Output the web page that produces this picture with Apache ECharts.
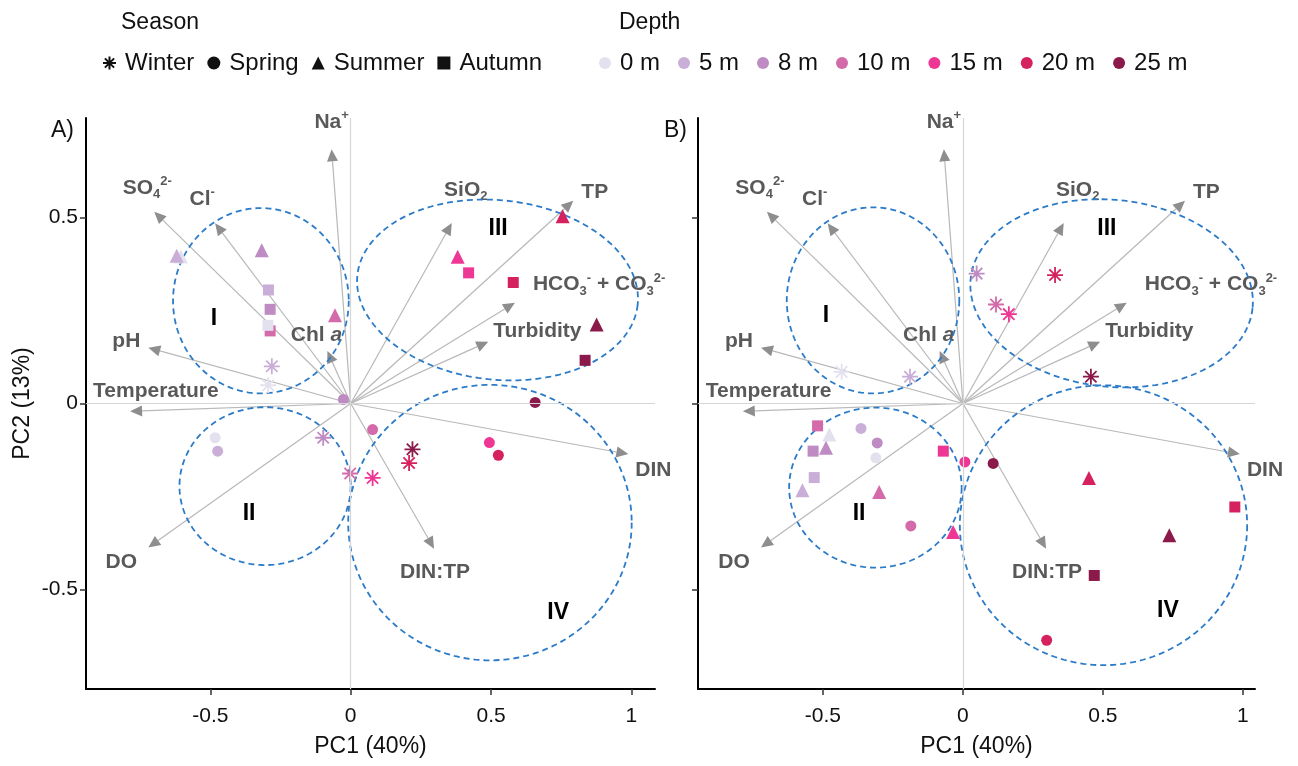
<!DOCTYPE html>
<html><head><meta charset="utf-8">
<script src="https://cdn.jsdelivr.net/npm/echarts@6/dist/echarts.min.js"></script>
<style>html,body{margin:0;padding:0;background:#fff}#c{width:1298px;height:766px}</style>
</head><body><div id="c"></div><script>
// ---------------- DATA ----------------
const depths = ['0 m','5 m','8 m','10 m','15 m','20 m','25 m'];
const seasons = ['Winter','Spring','Summer','Autumn'];
const xTicks = [-0.5, 0, 0.5, 1];
const yTicks = [-0.5, 0, 0.5];

// PCA loadings (arrows) : names, PC1, PC2
const loadingNames = ['Na+','SO4','Cl','pH','Chl a','Temperature','DO','SiO2','TP','HCO3','Turbidity','DIN','DIN:TP'];
const loadingPC1 = [-0.068,-0.700,-0.483,-0.721,-0.083,-0.786,-0.721,0.360,0.793,0.585,0.490,0.989,0.297];
const loadingPC2 = [0.683,0.515,0.484,0.150,0.141,-0.021,-0.387,0.485,0.545,0.271,0.166,-0.136,-0.390];

// Scores: [PC1, PC2, depth index]
const A_winter = [[-0.294,0.049,0],[-0.281,0.100,1],[-0.098,-0.092,2],[-0.002,-0.188,3],[0.078,-0.200,4],[0.208,-0.160,5],[0.220,-0.123,6]];
const A_spring = [[-0.483,-0.092,0],[-0.474,-0.128,1],[-0.026,0.011,2],[0.078,-0.070,3],[0.494,-0.105,4],[0.526,-0.139,5],[0.657,0.003,6]];
const A_summer = [[-0.605,0.395,0],[-0.620,0.397,1],[-0.317,0.412,2],[-0.056,0.237,3],[0.381,0.394,4],[0.755,0.503,5],[0.876,0.212,6]];
const A_autumn = [[-0.293,0.305,1],[-0.287,0.253,2],[-0.287,0.195,3],[-0.295,0.210,0],[0.420,0.351,4],[0.579,0.325,5],[0.835,0.116,6]];

const B_winter = [[-0.433,0.085,0],[-0.189,0.072,1],[0.049,0.349,2],[0.118,0.266,3],[0.164,0.240,4],[0.329,0.345,5],[0.457,0.072,6]];
const B_spring = [[-0.311,-0.146,0],[-0.364,-0.067,1],[-0.306,-0.106,2],[-0.186,-0.329,3],[0.007,-0.157,4],[0.299,-0.636,5],[0.108,-0.161,6]];
const B_summer = [[-0.477,-0.083,0],[-0.573,-0.233,1],[-0.489,-0.119,2],[-0.299,-0.238,3],[-0.035,-0.345,4],[0.450,-0.200,5],[0.737,-0.354,6]];
const B_autumn = [[-0.531,-0.199,1],[-0.535,-0.128,2],[-0.519,-0.060,3],[-0.070,-0.128,4],[0.971,-0.278,5],[0.469,-0.462,6]];

// Cluster ellipses: [centre PC1, centre PC2, radius PC1, radius PC2, tilt deg]
const A_clusters = [[-0.320,0.276,0.313,0.249,0],[-0.305,-0.222,0.305,0.212,0],[0.523,0.305,0.502,0.241,6],[0.496,-0.320,0.505,0.370,0]];
const B_clusters = [[-0.321,0.277,0.308,0.250,0],[-0.3125,-0.226,0.308,0.215,0],[0.531,0.296,0.506,0.251,6],[0.502,-0.327,0.513,0.376,0]];
const clusterNames = ['I','II','III','IV'];
const A_clusterLabelPos = [[-0.487,0.229],[-0.362,-0.295],[0.525,0.471],[0.739,-0.561]];
const B_clusterLabelPos = [[-0.489,0.235],[-0.371,-0.295],[0.514,0.471],[0.732,-0.556]];

// ---------------- STYLE ----------------
const FONT = '"Liberation Sans", Arial, Helvetica, sans-serif';
const depthColors = ['#e4e1ef','#c9afd7','#bf8bc3','#d36aa9','#ee3795','#d6215f','#8b1a4a'];
const ASTERISK = 'path://M0,-10L0,10M-10,0L10,0M-7.07,-7.07L7.07,7.07M7.07,-7.07L-7.07,7.07';
const seasonSymbol = {Winter: ASTERISK, Spring: 'circle', Summer: 'triangle', Autumn: 'rect'};
const seasonSize = {Winter: 16, Spring: 11, Summer: 14, Autumn: 11};
const labelCfg = {
  'Na+':        {t:'{b|Na}{sup|+}', dx:0, dy:-27, a:'center'},
  'SO4':        {t:'{b|SO}{sub|4}{sup|2-}', dx:-7, dy:-24, a:'center'},
  'Cl':         {t:'{b|Cl}{sup|-}', dx:-13, dy:-24, a:'center'},
  'pH':         {t:'{b|pH}', dx:-22, dy:-6, a:'center'},
  'Chl a':      {t:'{b|Chl }{i|a}', dx:-11, dy:-16, a:'center'},
  'Temperature':{t:'{b|Temperature}', dx:-37, dy:-20, a:'left'},
  'DO':         {t:'{b|DO}', dx:-27, dy:15, a:'center'},
  'SiO2':       {t:'{b|SiO}{sub|2}', dx:14, dy:-33, a:'center'},
  'TP':         {t:'{b|TP}', dx:8, dy:-8, a:'left'},
  'HCO3':       {t:'{b|HCO}{sub|3}{sup|-}{b| + CO}{sub|3}{sup|2-}', dx:18, dy:-18, a:'left'},
  'Turbidity':  {t:'{b|Turbidity}', dx:5, dy:-11, a:'left'},
  'DIN':        {t:'{b|DIN}', dx:7, dy:16, a:'left'},
  'DIN:TP':     {t:'{b|DIN:TP}', dx:1, dy:24, a:'center'}
};
const rich = {
  b:{fontSize:21, fontWeight:'bold', fill:'#595959', fontFamily:FONT, lineHeight:26},
  i:{fontSize:21, fontWeight:'bold', fontStyle:'italic', fill:'#595959', fontFamily:FONT, lineHeight:26},
  sup:{fontSize:13, fontWeight:'bold', fill:'#595959', fontFamily:FONT, lineHeight:13, verticalAlign:'top'},
  sub:{fontSize:13, fontWeight:'bold', fill:'#595959', fontFamily:FONT, lineHeight:13, verticalAlign:'bottom'}
};

const chart = echarts.init(document.getElementById('c'));

function arrowSeries(k){
  return {
    type:'custom', xAxisIndex:k, yAxisIndex:k, z:2, silent:true, clip:false,
    data: loadingPC1.map((v,i)=>[v, loadingPC2[i], i]),
    encode:{x:0,y:1},
    renderItem:(params, api)=>{
      const o = api.coord([0,0]);
      const p = api.coord([api.value(0), api.value(1)]);
      const ang = Math.atan2(p[1]-o[1], p[0]-o[0]);
      const L = 12, W = 5.5;
      const bx = p[0]-L*Math.cos(ang), by = p[1]-L*Math.sin(ang);
      const nx = -Math.sin(ang), ny = Math.cos(ang);
      const cfg = labelCfg[loadingNames[api.value(2)]];
      return {type:'group', children:[
        {type:'line', shape:{x1:o[0],y1:o[1],x2:bx,y2:by}, style:{stroke:'#b8b8b8', lineWidth:1.2}},
        {type:'polygon', shape:{points:[[p[0],p[1]],[bx+nx*W,by+ny*W],[bx-nx*W,by-ny*W]]}, style:{fill:'#8e8e8e'}},
        {type:'text', z2:10, style:{x:p[0]+cfg.dx, y:p[1]+cfg.dy, text:cfg.t, rich:rich, align:cfg.a, verticalAlign:'middle', fill:'#595959', font:'bold 21px '+FONT}}
      ]};
    },
    markLine:{silent:true, symbol:['none','none'], label:{show:false},
      lineStyle:{color:'#d6d6d6', width:1.2, type:'solid'},
      data:[{xAxis:0},{yAxis:0}]}
  };
}
function ellipseSeries(k, clusters, labelPos){
  return {
    type:'custom', xAxisIndex:k, yAxisIndex:k, z:3, silent:true, clip:false,
    data: clusters.map((c,i)=>[c[0],c[1],c[2],c[3],c[4],labelPos[i][0],labelPos[i][1],i]),
    encode:{x:0,y:1},
    renderItem:(params, api)=>{
      const c = api.coord([api.value(0), api.value(1)]);
      const s = api.size([api.value(2), api.value(3)]);
      const rot = api.value(4)*Math.PI/180;
      const pts = [];
      for(let j=0;j<=180;j++){
        const t = j/180*2*Math.PI;
        const ex = s[0]*Math.cos(t), ey = s[1]*Math.sin(t);
        pts.push([c[0]+ex*Math.cos(rot)-ey*Math.sin(rot), c[1]+ex*Math.sin(rot)+ey*Math.cos(rot)]);
      }
      const lp = api.coord([api.value(5), api.value(6)]);
      return {type:'group', children:[
        {type:'polyline', shape:{points:pts}, style:{stroke:'#2b7bc8', lineWidth:1.8, lineDash:[6,4], fill:null}},
        {type:'text', style:{x:lp[0], y:lp[1], text:clusterNames[api.value(7)], align:'center', verticalAlign:'middle', fill:'#000', font:'bold 23px '+FONT}}
      ]};
    }
  };
}
function pointSeries(k, season, arr){
  const sym = seasonSymbol[season];
  return {
    type:'scatter', name:season, xAxisIndex:k, yAxisIndex:k, z:4, silent:true,
    symbol: sym, symbolSize: seasonSize[season],
    itemStyle:{color:'#000', opacity:1},
    data: arr.map(p=>({value:[p[0],p[1]], itemStyle: season==='Winter'
      ? {color:'rgba(0,0,0,0)', borderColor:depthColors[p[2]], borderWidth:1.8, opacity:1}
      : {color:depthColors[p[2]], borderWidth:0, opacity:1}}))
  };
}
function xAxis(k, min, max){
  return {gridIndex:k, type:'value', min:min, max:max,
    axisLine:{show:true, onZero:false, lineStyle:{color:'#000', width:2}},
    axisTick:{show:true, customValues:xTicks, length:6, lineStyle:{color:'#333', width:1.5}},
    axisLabel:{customValues:xTicks, fontSize:21, color:'#111', margin:17, fontFamily:FONT},
    splitLine:{show:false},
    name:'PC1 (40%)', nameLocation:'middle', nameGap:46,
    nameTextStyle:{fontSize:23, color:'#111', fontFamily:FONT}};
}
function yAxis(k, showName){
  return {gridIndex:k, type:'value', min:-0.767, max:0.767,
    axisLine:{show:true, onZero:false, lineStyle:{color:'#000', width:2}},
    axisTick:{show:true, customValues:yTicks, length:6, lineStyle:{color:'#333', width:1.5}},
    axisLabel:{show:showName, customValues:yTicks, fontSize:21, color:'#111', margin:8, fontFamily:FONT},
    splitLine:{show:false},
    name: showName ? 'PC2 (13%)' : '', nameLocation:'middle', nameGap:52,
    nameTextStyle:{fontSize:23, color:'#111', fontFamily:FONT}};
}

const series = [
  arrowSeries(0), arrowSeries(1),
  ellipseSeries(0, A_clusters, A_clusterLabelPos), ellipseSeries(1, B_clusters, B_clusterLabelPos),
  pointSeries(0,'Winter',A_winter), pointSeries(0,'Spring',A_spring), pointSeries(0,'Summer',A_summer), pointSeries(0,'Autumn',A_autumn),
  pointSeries(1,'Winter',B_winter), pointSeries(1,'Spring',B_spring), pointSeries(1,'Summer',B_summer), pointSeries(1,'Autumn',B_autumn)
];
depths.forEach((d,i)=>series.push({type:'scatter', name:d, xAxisIndex:0, yAxisIndex:0, data:[], symbol:'circle', itemStyle:{color:depthColors[i], opacity:1}}));

const txt = {fontSize:23, fontWeight:'normal', color:'#111', fontFamily:FONT};
chart.setOption({
  animation:false,
  backgroundColor:'#fff',
  title:[
    {text:'Season', left:121, top:11, padding:0, textStyle:txt},
    {text:'Depth', left:619, top:11, padding:0, textStyle:txt},
    {text:'A)', left:51, top:119, padding:0, textStyle:txt},
    {text:'B)', left:664, top:119, padding:0, textStyle:txt}
  ],
  legend:[
    {left:102, top:51, padding:0, selectedMode:false, itemWidth:13, itemHeight:13, itemGap:13,
     textStyle:{fontSize:24, color:'#111', fontFamily:FONT, padding:[0,0,0,4]},
     data:[
       {name:'Winter', icon:ASTERISK, itemStyle:{color:'rgba(0,0,0,0)', borderColor:'#111', borderWidth:2, opacity:1}},
       {name:'Spring', icon:'circle', itemStyle:{color:'#111', opacity:1}},
       {name:'Summer', icon:'triangle', itemStyle:{color:'#111', opacity:1}},
       {name:'Autumn', icon:'rect', itemStyle:{color:'#111', opacity:1}}
     ]},
    {left:599, top:51, padding:0, selectedMode:false, itemWidth:12, itemHeight:12, itemGap:18,
     textStyle:{fontSize:24, color:'#111', fontFamily:FONT, padding:[0,0,0,4]},
     data: depths.map(d=>({name:d, icon:'circle'}))}
  ],
  grid:[
    {left:86, top:118, width:569, height:571},
    {left:698, top:118, width:557, height:571}
  ],
  xAxis:[xAxis(0,-0.943,1.084), xAxis(1,-0.946,1.043)],
  yAxis:[yAxis(0,true), yAxis(1,false)],
  series: series
});
</script></body></html>
